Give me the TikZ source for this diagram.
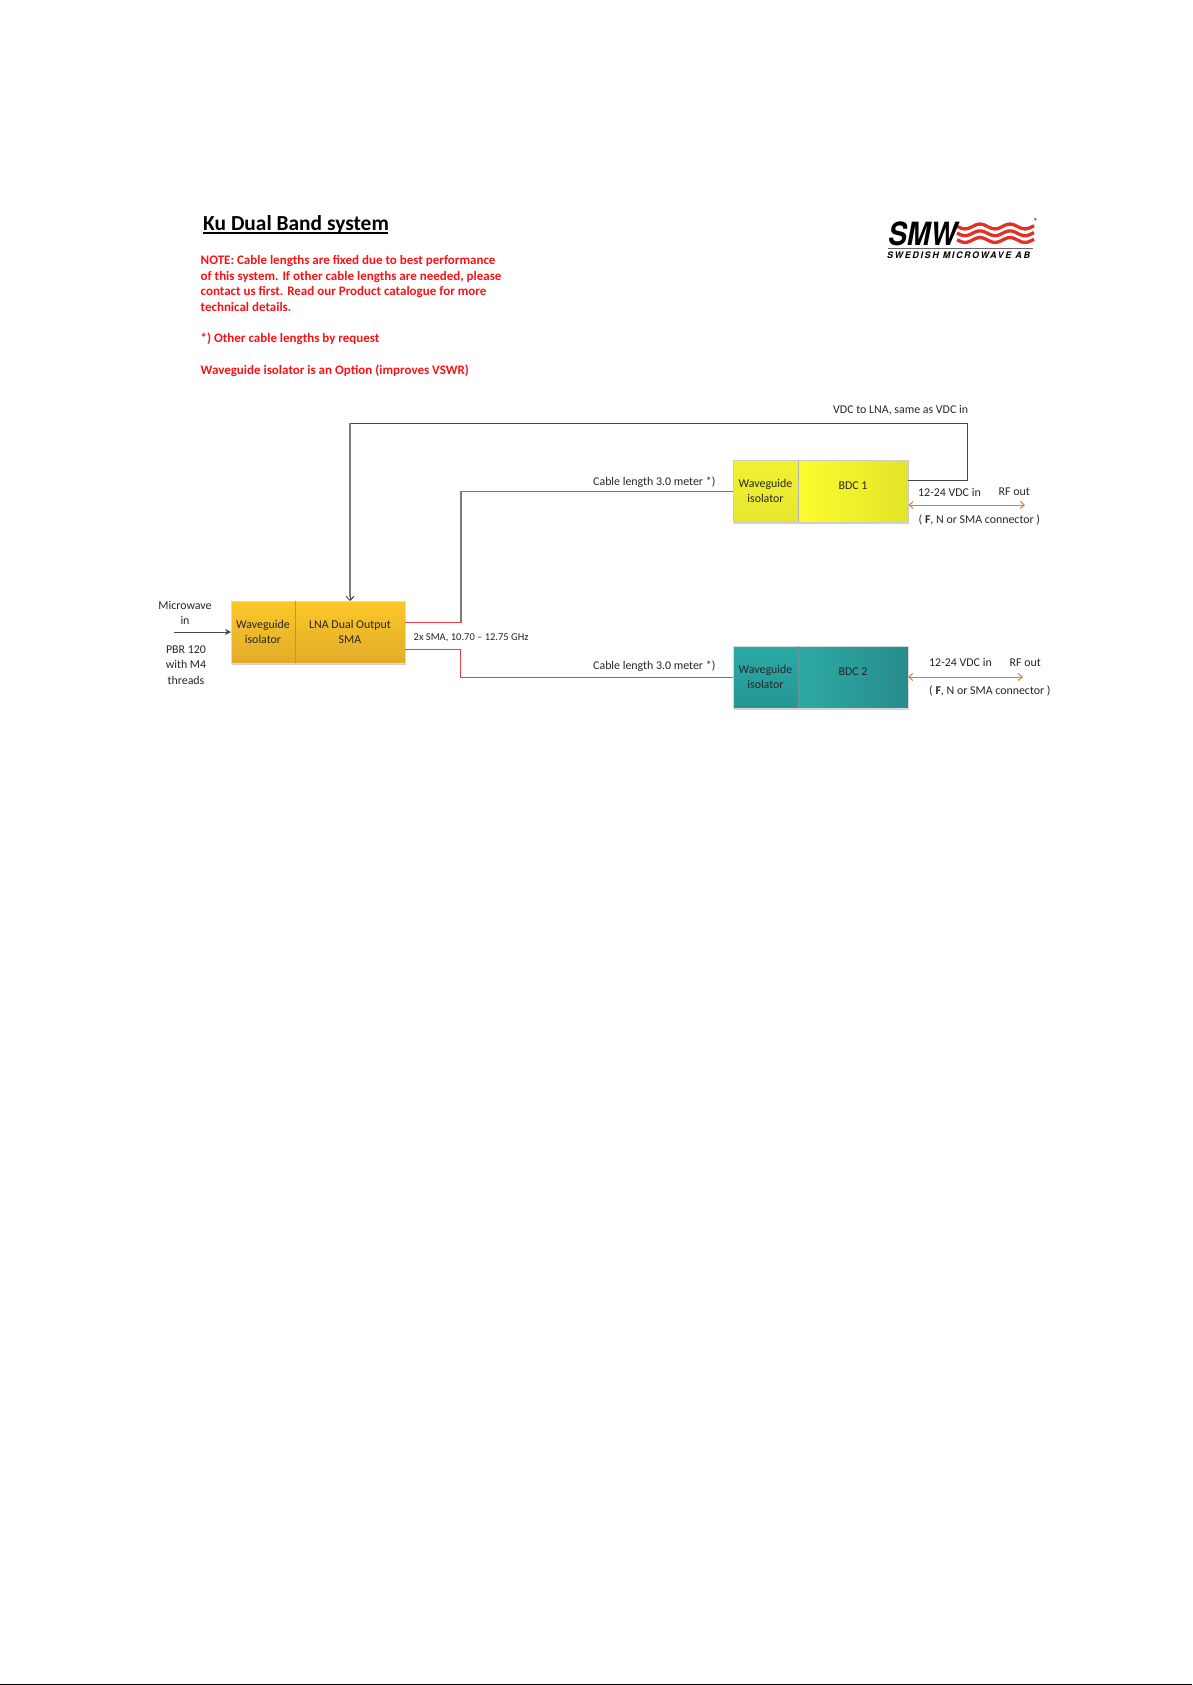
\documentclass[tikz,border=0pt]{standalone}
\usepackage{fontspec}
\setmainfont{Carlito}
\newfontfamily\logofont[FakeStretch=.88]{TeX Gyre Heros}
\newfontfamily\logosub[LetterSpace=18]{TeX Gyre Heros}
\usetikzlibrary{arrows.meta,calc}
\definecolor{redtxt}{RGB}{252,18,22}
\definecolor{cable}{RGB}{244,60,70}
\definecolor{dc}{RGB}{70,70,70}
\definecolor{dcgrey}{RGB}{125,125,125}
\definecolor{orangeline}{RGB}{222,125,50}
\definecolor{lnatop}{RGB}{252,200,40}
\definecolor{lnabot}{RGB}{226,172,42}
\definecolor{ybr}{RGB}{228,228,42}
\definecolor{ymid}{RGB}{252,252,45}
\definecolor{yiso}{RGB}{242,242,50}
\definecolor{yisob}{RGB}{230,230,46}
\definecolor{ttop}{RGB}{44,170,166}
\definecolor{tbot}{RGB}{40,140,140}
\definecolor{tiso}{RGB}{36,150,150}
\definecolor{wavered}{RGB}{226,50,38}
\tikzset{
  x=1pt,y=-1pt,
  lbl/.style={inner sep=0pt,align=center,text=black!85,font=\fontsize{11.9}{15.5}\selectfont},
  small/.style={lbl,font=\fontsize{10.5}{13}\selectfont},
  notetxt/.style={inner sep=0pt,anchor=north west,align=left,text=redtxt,font=\bfseries\fontsize{13}{15.7}\selectfont},
  boxshadow/.style={fill=black!18},
  lnafill/.style={top color=lnatop,bottom color=lnabot,draw=black!15,line width=.5pt},
  yisofill/.style={top color=yiso,bottom color=yisob,draw=black!20,line width=.5pt},
  yfill/.style={left color=ymid,right color=ybr,draw=black!20,line width=.5pt},
  tisofill/.style={top color=ttop,bottom color=tiso,draw=black!15,line width=.5pt},
  tfill/.style={left color=ttop,right color=tbot,draw=black!15,line width=.5pt},
  sep/.style={line width=1pt},
  cableln/.style={draw=cable,line width=.9pt},
  dcln/.style={draw=dc,line width=1pt},
  greyseg/.style={draw=dcgrey,line width=1.2pt},
  rfln/.style={draw=orangeline,line width=1pt,{Straight Barb[length=4pt,width=7pt]}-{Straight Barb[length=4pt,width=7pt]}},
  inarrow/.style={draw=dc,line width=.8pt,-{Stealth[length=6pt,width=6pt]}},
  dcarrow/.style={dcln,-{Straight Barb[length=4pt,width=8pt]}},
  wave/.style={draw=wavered,line width=3.3pt}
}
\begin{document}
\begin{tikzpicture}
\useasboundingbox (0,0) rectangle (1192,1685);
\fill[white] (0,0) rectangle (1192,1685);
\fill[black] (0,1683.5) rectangle (1192,1685);
% title and notes
\node[inner sep=0pt,anchor=base west,font=\bfseries\fontsize{21.4}{26}\selectfont] (title) at (203,230.5) {Ku Dual Band system};
\draw[black,line width=1.4pt] (203,233.2) -- (388,233.2);
\node[notetxt] (note) at (200.5,255) {NOTE: Cable lengths are fixed due to best performance\\of this system. If other cable lengths are needed, please\\contact us first. Read our Product catalogue for more\\technical details.\\[15.7pt]*) Other cable lengths by request\\[15.7pt]Waveguide isolator is an Option (improves VSWR)};
% logo
\foreach \yy in {226.5,233.3,240}{
  \draw[wave] plot[domain=957:1034,samples=70,smooth] (\x,{\yy-2.4*cos((\x-980)*12)});
}
\node[inner sep=0pt,anchor=base west,font=\logofont\bfseries\itshape\fontsize{32}{32}\selectfont] (smw) at (888,246) {SMW};
\node[inner sep=0pt,font=\bfseries\fontsize{7}{7}\selectfont] (reg) at (1036,221.5) {®};
\draw[black!60,line width=.7pt] (888,248) -- (1033,248);
\node[inner sep=0pt,anchor=base west,font=\logosub\bfseries\itshape\fontsize{9}{10}\selectfont] (swed) at (887,258.5) {SWEDISH MICROWAVE AB};
% boxes
\fill[boxshadow] (232,602) rectangle (406,664.5);
\fill[boxshadow] (734,461) rectangle (909,523.5);
\fill[boxshadow] (734,647) rectangle (909,709.5);
\path[lnafill] (231,601) rectangle (405,663);
\draw[sep,draw={rgb,255:red,190;green,150;blue,50}] (295,601) -- (295,663);
\path[yisofill] (733,460) rectangle (798,522);
\path[yfill] (798,460) rectangle (908,522);
\draw[sep,draw=black!30] (798,460) -- (798,522);
\path[tisofill] (733,646) rectangle (798,708);
\path[tfill] (798,646) rectangle (908,708);
\draw[sep,draw={rgb,255:red,100;green,150;blue,150}] (798,646) -- (798,708);
\node[lbl] (lnaiso) at (263,632) {Waveguide\\isolator};
\node[lbl] (lna) at (350,632) {LNA Dual Output\\SMA};
\node[lbl] (iso1) at (765.5,491) {Waveguide\\isolator};
\node[lbl] (bdc1) at (853,486) {BDC 1};
\node[lbl] (iso2) at (765.5,677) {Waveguide\\isolator};
\node[lbl] (bdc2) at (853,672) {BDC 2};
% anchors for connectors
\coordinate (lnaA) at (405,622);
\coordinate (lnaB) at (405,649);
\coordinate (iso1w) at (733,491);
\coordinate (iso2w) at (733,677);
\coordinate (bdc1dc) at (908,480);
\coordinate (lnatop) at (350,601);
\coordinate (dccorner) at (350,423);
\coordinate (cabletop) at (461,491);
\coordinate (cablelow) at (461,622);
\coordinate (mwstart) at (174,632);
\coordinate (mwend) at (231,632);
\coordinate (rf1a) at (908.5,505);
\coordinate (rf1b) at (1025,505);
\coordinate (rf2a) at (908,677);
\coordinate (rf2b) at (1023,677);
% connectors
\draw[cableln] (lnaA) -- (cablelow) -- (cabletop) -- (iso1w);
\draw[greyseg] (cablelow) -- (cabletop);
\draw[cableln] (lnaB) -- (460,649) -- (460,677) -- (iso2w);
\draw[dcarrow] (bdc1dc) -- (967,480) -- (967,423) -- (dccorner) -- (lnatop);
\draw[greyseg] (dccorner) -- ($(lnatop)+(0,-4)$);
\draw[rfln] (rf1a) -- (rf1b);
\draw[rfln] (rf2a) -- (rf2b);
\draw[inarrow] (mwstart) -- (mwend);
% labels
\node[lbl] (mw) at (185,613) {Microwave\\in};
\node[lbl] (pbr) at (186,665) {PBR 120\\with M4\\threads};
\node[small,anchor=west] (sma) at (413.5,637.5) {2x SMA, 10.70 – 12.75 GHz};
\node[lbl,anchor=west] (c1) at (593,482) {Cable length 3.0 meter *)};
\node[lbl,anchor=west] (c2) at (593,666) {Cable length 3.0 meter *)};
\node[lbl,anchor=west] (vdc) at (833,410) {VDC to LNA, same as VDC in};
\node[lbl,anchor=west] (v1) at (918,492) {12-24 VDC in};
\node[lbl,anchor=west] (r1) at (998.5,492) {RF out};
\node[lbl,anchor=west] (f1) at (918.5,520) {( \textbf{F}, N or SMA connector )};
\node[lbl,anchor=west] (v2) at (929,662.5) {12-24 VDC in};
\node[lbl,anchor=west] (r2) at (1009.5,662.5) {RF out};
\node[lbl,anchor=west] (f2) at (929,691) {( \textbf{F}, N or SMA connector )};
\end{tikzpicture}
\end{document}
